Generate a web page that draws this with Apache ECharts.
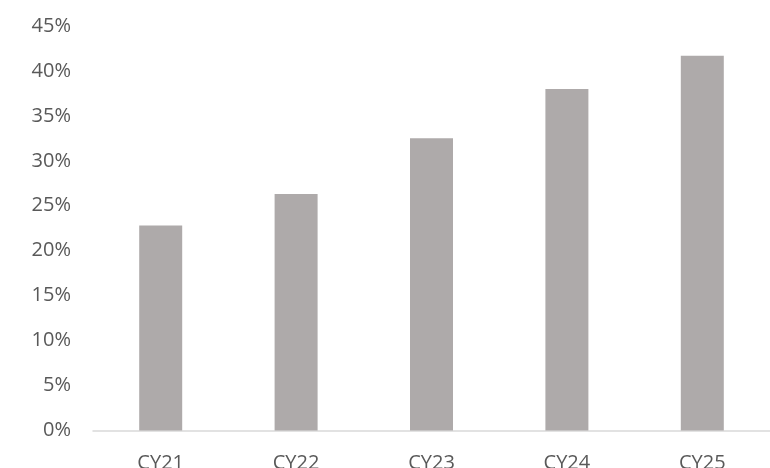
<!DOCTYPE html>
<html>
<head>
<meta charset="utf-8">
<style>
  html, body { margin: 0; padding: 0; background: #fff; }
  #chart { width: 770px; height: 468px; }
</style>
<script src="https://cdn.jsdelivr.net/npm/echarts@6/dist/echarts.min.js"></script>
</head>
<body>
<div id="chart"></div>
<script>
// Calendar years and share values (percent)
const categories = ['CY21', 'CY22', 'CY23', 'CY24', 'CY25'];
const shareValues = [22.8, 26.3, 32.5, 38.0, 41.7];
const yTicks = { min: 0, max: 45, step: 5 };

const chart = echarts.init(document.getElementById('chart'));
chart.setOption({
  animation: false,
  grid: {
    left: 93, right: 0, top: 26, bottom: 37.5,
    containLabel: false,
    outerBoundsMode: 'none'
  },
  xAxis: {
    type: 'category',
    data: categories,
    axisLine: { show: true, lineStyle: { color: '#D9D9D9', width: 1.5 } },
    axisTick: { show: false },
    axisLabel: {
      color: '#595959',
      fontFamily: 'Open Sans',
      fontSize: 20,
      margin: 23
    }
  },
  yAxis: {
    type: 'value',
    min: yTicks.min,
    max: yTicks.max,
    interval: yTicks.step,
    axisLine: { show: false },
    axisTick: { show: false },
    splitLine: { show: false },
    axisLabel: {
      color: '#595959',
      fontFamily: 'Open Sans',
      fontSize: 20,
      margin: 22,
      formatter: v => v + '%'
    }
  },
  series: [{
    type: 'bar',
    data: shareValues,
    barWidth: 43,
    itemStyle: { color: '#AEAAAA' }
  }]
});
</script>
</body>
</html>
